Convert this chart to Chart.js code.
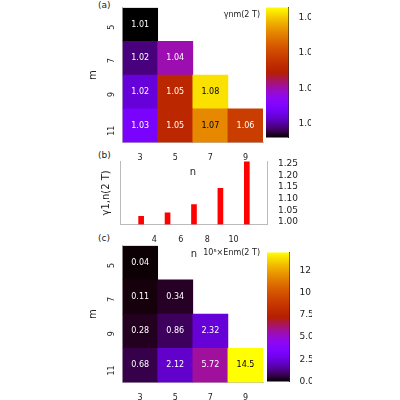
<!DOCTYPE html><html><head><meta charset="utf-8">
<script src="https://cdn.jsdelivr.net/npm/chart.js@4"></script>
<style>body{margin:0;background:#fff;font-family:"DejaVu Sans",sans-serif}
canvas{position:absolute}.lb{position:absolute;font-size:9px;color:#222}</style></head><body>
<div class="lb" style="left:98px;top:0px">(a)</div>
<div class="lb" style="left:98px;top:150px">(b)</div>
<div class="lb" style="left:98px;top:233px">(c)</div>
<canvas id="a" width="188" height="178" style="left:87px;top:0"></canvas>
<canvas id="ac" width="48" height="145" style="left:263px;top:0"></canvas>
<canvas id="b" width="200" height="106" style="left:100px;top:154px"></canvas>
<canvas id="c" width="188" height="180" style="left:87px;top:238px"></canvas>
<canvas id="cc" width="48" height="144" style="left:264px;top:245px"></canvas>
<script>
const nCats=['3','5','7','9'];
const mRows=['11','9','7','5'];
const gammaA=[[1.029,1.052,1.072,1.058],[1.024,1.052,1.083,null],[1.018,1.040,null,null],[1.012,null,null,null]];
const gammaLbl=[['1.03','1.05','1.07','1.06'],['1.02','1.05','1.08',null],['1.02','1.04',null,null],['1.01',null,null,null]];
const energyC=[[0.68,2.12,5.72,14.5],[0.28,0.86,2.32,null],[0.11,0.34,null,null],[0.04,null,null,null]];
const energyLbl=[['0.68','2.12','5.72','14.5'],['0.28','0.86','2.32',null],['0.11','0.34',null,null],['0.04',null,null,null]];
const bN=[3,5,7,9,11];
const bVals=[1.025,1.04,1.075,1.145,1.26];
const aTicks=[1.02,1.04,1.06,1.08], cTicks=[0,2.5,5,7.5,10,12.5];
const F={family:'DejaVu Sans',size:8};
Chart.defaults.color='#222';Chart.defaults.font=F;
function cmap(t){t=Math.max(0,Math.min(1,t));const r=Math.sqrt(t),g=t*t*t,b=Math.max(0,Math.sin(2*Math.PI*t));
return `rgb(${Math.round(r*255)},${Math.round(g*255)},${Math.round(b*255)})`;}
const border={color:'#bbb'};
function heat(id,vals,lbls,mn,mx,ttl){
 const ds=mRows.map((m,i)=>({data:vals[i].map(v=>v==null?null:1),
  backgroundColor:vals[i].map(v=>v==null?'rgba(0,0,0,0)':cmap((v-mn)/(mx-mn))),
  barPercentage:1,categoryPercentage:1,borderWidth:0,raw:vals[i],lbl:lbls[i],stack:'s'}));
 new Chart(document.getElementById(id),{type:'bar',data:{labels:nCats,datasets:ds},
 options:{responsive:false,animation:false,plugins:{legend:{display:false},tooltip:{enabled:false}},
 layout:{padding:{top:5,right:12}},
 scales:{x:{stacked:true,grid:{display:false},border,title:{display:true,text:'n',padding:0,font:{size:10}}},
  y:{stacked:true,min:0,max:4,grid:{display:false},border,afterBuildTicks:s=>{s.ticks=[0.5,1.5,2.5,3.5].map(v=>({value:v}))},
   ticks:{callback:v=>mRows[Math.floor(v)],minRotation:90,maxRotation:90},title:{display:true,text:'m',padding:0,font:{size:10}}}}},
 plugins:[{id:'t',afterDatasetsDraw(ch){const c=ch.ctx;c.save();c.font='8px DejaVu Sans';c.textAlign='center';c.textBaseline='middle';
  ch.data.datasets.forEach((d,i)=>ch.getDatasetMeta(i).data.forEach((el,j)=>{if(d.lbl[j]==null)return;
   const t=(d.raw[j]-mn)/(mx-mn);c.fillStyle=t>0.75?'#000':'#fff';c.fillText(d.lbl[j],el.x,(el.y+el.base)/2);}));
  const a=ch.chartArea;c.textAlign='right';c.textBaseline='top';c.fillStyle='#222';c.fillText(ttl,a.right-3,a.top+3);c.restore();}}]});
}
function cbar(id,mn,mx,ticks,dec){
 new Chart(document.getElementById(id),{type:'bar',data:{labels:['c'],datasets:[{data:[[mn,mx]],barPercentage:1,categoryPercentage:1,
  backgroundColor:(ctx)=>{const a=ctx.chart.chartArea;if(!a)return'#000';const g=ctx.chart.ctx.createLinearGradient(0,a.bottom,0,a.top);
   for(let i=0;i<=20;i++)g.addColorStop(i/20,cmap(i/20));return g;}}]},
 options:{responsive:false,animation:false,plugins:{legend:{display:false},tooltip:{enabled:false}},layout:{padding:{top:5,bottom:0,left:3}},
  scales:{x:{display:false},y:{position:'right',min:mn,max:mx,grid:{display:false},border:{color:'#222'},
  afterBuildTicks:s=>{s.ticks=ticks.map(v=>({value:v}))},ticks:{autoSkip:false,font:{size:9},padding:2,callback:v=>v.toFixed(dec)}}}}});
}
heat('a',gammaA,gammaLbl,1.012,1.086,'γnm(2 T)');
cbar('ac',1.012,1.086,aTicks,2);
heat('c',energyC,energyLbl,0,14.5,'10⁵×Enm(2 T)');
cbar('cc',0,14.5,cTicks,1);
new Chart(document.getElementById('b'),{type:'bar',data:{datasets:[{data:bN.map((n,i)=>({x:n,y:[0.99,bVals[i]]})),backgroundColor:'#f00',barThickness:5}]},
 options:{responsive:false,animation:false,plugins:{legend:{display:false},tooltip:{enabled:false}},layout:{padding:{top:6}},
 scales:{x:{type:'linear',min:2.8,max:11.2,grid:{display:false},border,afterBuildTicks:s=>{s.ticks=[4,6,8,10].map(v=>({value:v}))},
  title:{display:true,text:'n',padding:0,font:{size:10}}},
  y:{position:'right',min:0.99,max:1.26,grid:{display:false},border,afterBuildTicks:s=>{s.ticks=[1,1.05,1.1,1.15,1.2,1.25].map(v=>({value:v}))},
   ticks:{autoSkip:false,font:{size:9},padding:2,callback:v=>v.toFixed(2)}},
  y2:{position:'left',grid:{display:false},border,ticks:{display:false},title:{display:true,text:'γ1,n(2 T)',padding:0,font:{size:10}}}}}});
</script></body></html>
